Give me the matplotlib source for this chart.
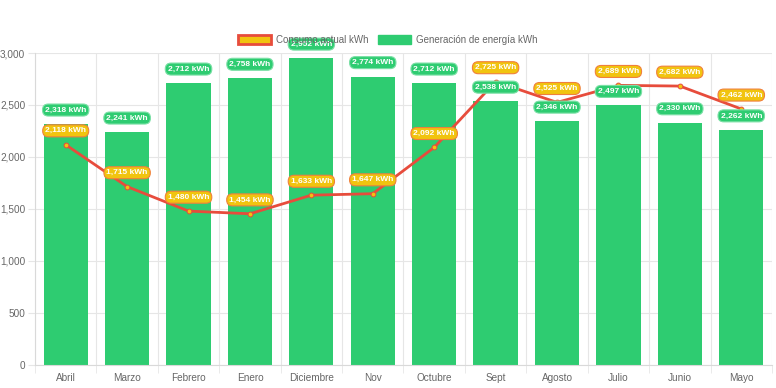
import matplotlib.pyplot as plt
import numpy as np
from matplotlib.patches import Patch
from matplotlib.ticker import FuncFormatter

plt.rcParams['font.family'] = ['Liberation Sans', 'DejaVu Sans']

meses = ['Abril', 'Marzo', 'Febrero', 'Enero', 'Diciembre', 'Nov',
         'Octubre', 'Sept', 'Agosto', 'Julio', 'Junio', 'Mayo']
generacion = [2318, 2241, 2712, 2758, 2952, 2774, 2712, 2538, 2346, 2497, 2330, 2262]
consumo = [2118, 1715, 1480, 1454, 1633, 1647, 2092, 2725, 2525, 2689, 2682, 2462]

verde = '#2ecc71'
rojo = '#e74c3c'
amarillo = '#f1c40f'

fig = plt.figure(figsize=(7.76, 3.88), dpi=100)
ax = fig.add_axes([0.0451, 0.0593, 0.9497, 0.8041])

x = np.arange(len(meses))
ax.bar(x, generacion, width=0.72, color=verde, zorder=2)
ax.plot(x, consumo, color=rojo, lw=2, zorder=3)
ax.scatter(x, consumo, s=12, color=amarillo, edgecolor=rojo, lw=0.7, zorder=4)

for i, v in enumerate(generacion):
    ax.annotate(f'{v:,} kWh', (i, v), xytext=(0, 10), textcoords='offset points',
                ha='center', va='center', fontsize=6, fontweight='bold', color='white',
                bbox=dict(boxstyle='round,pad=0.3,rounding_size=0.7', fc=verde, ec='#7be0a6', lw=0.8),
                zorder=5, annotation_clip=False)
for i, v in enumerate(consumo):
    ax.annotate(f'{v:,} kWh', (i, v), xytext=(0, 10), textcoords='offset points',
                ha='center', va='center', fontsize=6, fontweight='bold', color='white',
                bbox=dict(boxstyle='round,pad=0.3,rounding_size=0.7', fc=amarillo, ec='#f0803c', lw=0.8),
                zorder=6, annotation_clip=False)

ax.set_xlim(-0.5, len(meses) - 0.5)
ax.set_ylim(0, 3000)
ax.set_yticks(np.arange(0, 3001, 500))
ax.yaxis.set_major_formatter(FuncFormatter(lambda v, p: f'{int(v):,}'))
ax.set_xticks(x)
ax.set_xticklabels(meses)
ax.set_xticks(np.arange(-0.5, len(meses)), minor=True)

ax.grid(axis='y', color='#e6e6e6', lw=0.8, zorder=0)
ax.grid(axis='x', which='minor', color='#e6e6e6', lw=0.8, zorder=0)
ax.tick_params(axis='x', which='major', length=0, labelsize=7.2, labelcolor='#666666', pad=6)
ax.tick_params(axis='x', which='minor', length=6, color='#e6e6e6')
ax.tick_params(axis='y', length=5, color='#e6e6e6', labelsize=7.2, labelcolor='#666666', pad=2)
for s in ax.spines.values():
    s.set_visible(False)
ax.spines['left'].set_visible(True)
ax.spines['left'].set_color('#d9d9d9')
ax.spines['bottom'].set_visible(True)
ax.spines['bottom'].set_color('#d9d9d9')

handles = [Patch(fc=amarillo, ec=rojo, lw=2, label='Consumo actual kWh'),
           Patch(fc=verde, ec=verde, label='Generación de energía kWh')]
fig.legend(handles=handles, loc='center', bbox_to_anchor=(0.5, 0.897), ncol=2, frameon=False,
           fontsize=7, labelcolor='#666666', handlelength=3.4, handleheight=1.0,
           columnspacing=1.0, handletextpad=0.5)

fig.savefig('out.png', dpi=100)
